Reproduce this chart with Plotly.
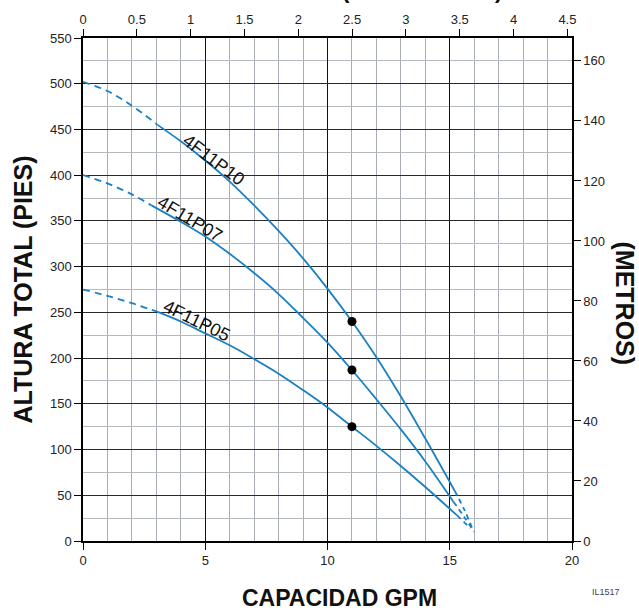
import plotly.graph_objects as go

# ---- data (GPM vs total head in feet) ----
q_p10_dash = [0, 1, 2, 3.05]
h_p10_dash = [502, 492, 476, 455]
q_p10 = [3.05, 4, 5, 6, 7, 8, 9, 10, 11, 12, 13, 14, 15.2]
h_p10 = [455, 437, 416, 393, 367, 339, 309, 276, 240, 201, 158, 112, 55]
q_p10_tail = [15.2, 15.6, 15.95]
h_p10_tail = [55, 34, 12]

q_p07_dash = [0, 1, 2, 2.8]
h_p07_dash = [400, 391, 379, 367]
q_p07 = [2.8, 4, 5, 6, 7, 8, 9, 10, 11, 12, 13, 14, 15.15]
h_p07 = [367, 349, 333, 314, 293, 270, 244, 217, 187, 155, 122, 87, 43]
q_p07_tail = [15.15, 15.6, 16.0]
h_p07_tail = [43, 26, 10]

q_p05_dash = [0, 1, 2, 3.0]
h_p05_dash = [275, 268, 260, 251]
q_p05 = [3.0, 4, 5, 6, 7, 8, 9, 10, 11, 12, 13, 14, 15.3]
h_p05 = [251, 240, 227, 214, 199, 183, 165, 146, 125, 104, 82, 59, 28]
q_p05_tail = [15.3, 15.85]
h_p05_tail = [28, 14]

q_rated = [11, 11, 11]
h_rated = [240, 187, 125]

model_names = ["4F11P10", "4F11P07", "4F11P05"]
label_q = [5.36, 4.38, 4.68]
label_h = [417, 352, 241]
label_angle = [37, 31, 26]

x_ticks_gpm = [0, 5, 10, 15, 20]
y_ticks_ft = list(range(0, 551, 50))
top_ticks_m3h = [0, 0.5, 1, 1.5, 2, 2.5, 3, 3.5, 4, 4.5]
right_ticks_m = [0, 20, 40, 60, 80, 100, 120, 140, 160]

GPM_MAX = 20
FT_MAX = 550
M3H_PER_GPM = 0.227125
M_PER_FT = 0.3048

BLUE = "#1a80c4"
FONT = "Liberation Sans, Arial, Helvetica, sans-serif"

fig = go.Figure()

def add_curve(qs, hs, dash):
    fig.add_trace(go.Scatter(
        x=qs, y=hs, mode="lines",
        line=dict(color=BLUE, width=1.8, shape="spline", smoothing=1.0, dash=dash),
        hoverinfo="skip", showlegend=False))

for qd, hd, qs, hs, qt, ht in [
    (q_p10_dash, h_p10_dash, q_p10, h_p10, q_p10_tail, h_p10_tail),
    (q_p07_dash, h_p07_dash, q_p07, h_p07, q_p07_tail, h_p07_tail),
    (q_p05_dash, h_p05_dash, q_p05, h_p05, q_p05_tail, h_p05_tail),
]:
    add_curve(qd, hd, "7px,5px")
    add_curve(qs, hs, "solid")
    add_curve(qt, ht, "5px,4px")

fig.add_trace(go.Scatter(
    x=q_rated, y=h_rated, mode="markers",
    marker=dict(color="black", size=9),
    hoverinfo="skip", showlegend=False))

# invisible trace to activate secondary axes
fig.add_trace(go.Scatter(x=[0], y=[0], xaxis="x2", yaxis="y2", mode="markers",
                         marker=dict(opacity=0), hoverinfo="skip", showlegend=False))

for name, lq, lh, ang in zip(model_names, label_q, label_h, label_angle):
    fig.add_annotation(x=lq, y=lh, xref="x", yref="y", text=name, showarrow=False,
                       textangle=ang, font=dict(family=FONT, size=18, color="#111"))

axis_font = dict(family=FONT, size=13, color="#222")

fig.update_layout(
    width=639, height=615,
    margin=dict(l=83, r=67, t=35, b=74),
    paper_bgcolor="white", plot_bgcolor="white",
    xaxis=dict(range=[0, GPM_MAX], tickvals=x_ticks_gpm, showgrid=True,
               gridcolor="#111", gridwidth=1.2, zeroline=False,
               showline=True, linecolor="black", linewidth=1.5,
               ticks="outside", ticklen=7, tickcolor="black", tickwidth=1.2,
               tickfont=axis_font,
               minor=dict(dtick=1, tick0=0, showgrid=True, gridcolor="#a9adb6", gridwidth=1.3)),
    yaxis=dict(range=[0, FT_MAX], tickvals=y_ticks_ft, showgrid=True,
               gridcolor="#2a2a2a", gridwidth=1.3, zeroline=False,
               showline=True, linecolor="black", linewidth=1.5,
               ticks="outside", ticklen=7, tickcolor="black", tickwidth=1.2,
               tickfont=axis_font,
               minor=dict(dtick=25, tick0=0, showgrid=True, gridcolor="#b5b8bf", gridwidth=1.3)),
    xaxis2=dict(range=[0, GPM_MAX * M3H_PER_GPM], tickvals=top_ticks_m3h,
                overlaying="x", side="top", showgrid=False, zeroline=False,
                showline=True, linecolor="black", linewidth=1.5,
                ticks="outside", ticklen=7, tickcolor="black", tickwidth=1.2,
                tickfont=axis_font),
    yaxis2=dict(range=[0, FT_MAX * M_PER_FT], tickvals=right_ticks_m,
                overlaying="y", side="right", showgrid=False, zeroline=False,
                showline=True, linecolor="black", linewidth=1.5,
                ticks="outside", ticklen=7, tickcolor="black", tickwidth=1.2,
                tickfont=axis_font),
)

side_title_font = dict(family=FONT, size=25, color="#111")
fig.add_annotation(text="<b>ALTURA TOTAL (PIES)</b>", xref="paper", yref="paper",
                   x=0, y=0.5, xshift=-61, textangle=-90, showarrow=False,
                   xanchor="center", yanchor="middle", font=side_title_font)
fig.add_annotation(text="<b>(METROS)</b>", xref="paper", yref="paper",
                   x=1, y=0.5, xshift=53, yshift=-14, textangle=90, showarrow=False,
                   xanchor="center", yanchor="middle", font=side_title_font)
fig.add_annotation(text="<b>CAPACIDAD GPM</b>", xref="paper", yref="paper",
                   x=0.5, y=0, xshift=12, yshift=-57, showarrow=False,
                   xanchor="center", yanchor="middle",
                   font=dict(family=FONT, size=23, color="#111"))
fig.add_annotation(text="<b>CAPACIDAD (METROS³/HR)</b>", xref="paper", yref="paper",
                   x=0, y=1, xshift=422, yshift=33, showarrow=False,
                   xanchor="right", yanchor="bottom",
                   font=dict(family=FONT, size=23, color="#111"))
fig.add_annotation(text="IL1517", xref="paper", yref="paper",
                   x=1, y=0, xshift=34, yshift=-51, showarrow=False,
                   xanchor="center", yanchor="middle",
                   font=dict(family=FONT, size=9, color="#444"))

fig.write_html("out.html", config={"displayModeBar": False},
               post_script="document.body.style.margin='0';document.body.style.padding='0';")
